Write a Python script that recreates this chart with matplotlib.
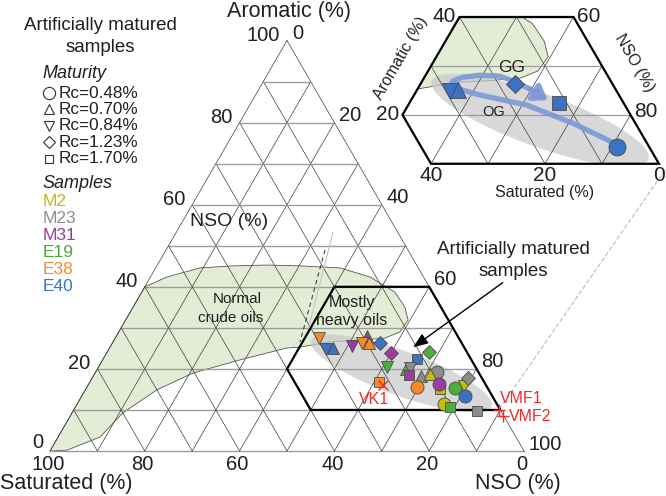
import numpy as np
import matplotlib.pyplot as plt
import matplotlib.transforms as mtransforms
from matplotlib.patches import Polygon, Ellipse

plt.rcParams['font.family'] = ['Liberation Sans', 'DejaVu Sans']

SQ = np.sqrt(3) / 2


def tern(aro, nso):
    # ternary (aromatic, NSO) -> cartesian, saturated = 100 - aro - nso
    aro = np.asarray(aro, dtype=float)
    nso = np.asarray(nso, dtype=float)
    return nso + aro / 2, aro * SQ


# ---------------- data ----------------
samples = ['M2', 'M23', 'M31', 'E19', 'E38', 'E40']
sample_colors = ['#c8bb10', '#8c8c8c', '#9b3c9e', '#4caf3a', '#f58b2b', '#3b72c4']
sample_text_colors = ['#c2b61c', '#8e8e8e', '#9a3c9a', '#4aa83a', '#f08c30', '#3f74c6']
maturity = ['Rc=0.48%', 'Rc=0.70%', 'Rc=0.84%', 'Rc=1.23%', 'Rc=1.70%']
maturity_markers = ['o', '^', 'v', 'D', 's']
marker_size = {'o': 9.4, '^': 8.4, 'v': 8.4, 'D': 6.8, 's': 7.2}

# artificially matured samples (in drawing order)
pt_sample = [4, 5, 5, 2, 2, 4, 4, 5, 2, 3, 4, 5, 3, 3, 1, 2, 1, 1, 0, 4, 0, 2, 3, 0, 1, 5, 0, 3, 1]
pt_rc = [2, 2, 1, 2, 1, 2, 1, 3, 3, 2, 4, 4, 3, 1, 2, 4, 1, 0, 1, 0, 4, 0, 0, 2, 3, 0, 0, 4, 4]
pt_aro = [27.5, 24.9, 25.1, 25.6, 28.0, 26.3, 26.3, 26.3, 23.9, 20.5, 16.8, 22.4, 24.1, 20.0, 20.2,
          18.5, 18.3, 19.2, 18.75, 15.6, 15.1, 16.3, 15.35, 15.8, 17.8, 13.4, 11.45, 10.7, 9.75]
pt_nso = [43.0, 45.8, 47.2, 50.9, 52.9, 52.7, 54.2, 56.5, 60.0, 60.9, 61.0, 66.2, 67.9, 65.1, 65.9,
          66.5, 69.1, 72.0, 70.8, 69.6, 74.7, 73.9, 77.8, 79.4, 79.3, 80.85, 77.4, 79.0, 85.2]

# natural oils
ref_names = ['VK1', 'VMF1', 'VMF2']
ref_aro = [16.1, 10.0, 8.5]
ref_nso = [62.2, 89.7, 91.3]

# normal crude oils / mostly heavy oils envelope
green_aro = [40, 42.4, 44.6, 45.1, 45.3, 45.1, 44.6, 42.4, 38.7, 35.1, 31.9, 29.0, 27.5, 27.0,
             26.6, 25.3, 25.1, 22.2, 19.0, 14.9, 9.3, 3.4, 0.2, 0]
green_nso = [0, 3.5, 9.35, 16.1, 23.1, 30.2, 38.9, 46.3, 53.4, 57.3, 59.6, 59.3, 56.9, 51.9,
             45.8, 40.1, 37.45, 29.0, 20.7, 15.1, 10.75, 8.85, 3.5, 0]

# zoomed window (trapezoid)
trap_aro = [40, 40, 10, 10, 20]
trap_nso = [40, 60, 90, 50, 40]

# E40 pathways in the inset
og_aro = [25.5, 24.05, 22.0, 18.3, 14.9, 13.6]
og_nso = [46.45, 51.6, 60.8, 70.7, 78.5, 81.0]
gg_aro = [25.7, 26.9, 27.7, 28.1, 27.9, 26.7, 25.3, 23.0]
gg_nso = [45.5, 45.4, 46.75, 49.55, 53.15, 56.55, 59.7, 64.0]

# artificially matured cloud (centre aro, nso; size; angle)
cloud_aro, cloud_nso = 18.9, 64.7
cloud_w, cloud_h, cloud_ang = 40.5, 9.4, -20

TXT = '#231f20'

fig = plt.figure(figsize=(6.66, 4.96), dpi=100)
px = mtransforms.Affine2D().scale(1 / 666, -1 / 496).translate(0, 1) + fig.transFigure

ax = fig.add_axes([0, 0, 1, 1])
ax.set_xlim(-50 / 4.74, 616 / 4.74)
ax.set_ylim(-45 / 4.74, 451 / 4.74)
ax.axis('off')


def draw_grid(a, lw_h, lw_d, clip=None):
    arts = []
    for v in range(0, 101, 10):
        x, y = tern([v, v], [0, 100 - v])
        arts += a.plot(x, y, color='#9c9c9c', lw=lw_h, zorder=2)
        x, y = tern([0, 100 - v], [v, v])
        arts += a.plot(x, y, color='#3d3d3d', lw=lw_d, zorder=2)
        x, y = tern([0, 100 - v], [100 - v, 0])
        arts += a.plot(x, y, color='#3d3d3d', lw=lw_d, zorder=2)
    if clip is not None:
        for l in arts:
            l.set_clip_path(clip)


def draw_regions(a, clip=None):
    gx, gy = tern(green_aro, green_nso)
    g = Polygon(np.column_stack([gx, gy]), closed=True, fc='#e3ecd4', ec='#555555', lw=0.6, zorder=1)
    a.add_patch(g)
    cx, cy = tern(cloud_aro, cloud_nso)
    e = Ellipse((cx, cy), cloud_w, cloud_h, angle=cloud_ang, fc='#c8c8c8', ec='none', alpha=0.7, zorder=1.5)
    a.add_patch(e)
    if clip is not None:
        g.set_clip_path(clip)
        e.set_clip_path(clip)


def draw_points(a, scale=1.0, only=None):
    for i in range(len(pt_aro)):
        if only is not None and pt_sample[i] != only:
            continue
        m = maturity_markers[pt_rc[i]]
        x, y = tern(pt_aro[i], pt_nso[i])
        a.plot(x, y, marker=m, ms=marker_size[m] * scale, mfc=sample_colors[pt_sample[i]],
               mec='#4a4a4a', mew=0.6, ls='none', zorder=5 + i * 0.01)


# ---------- main triangle ----------
draw_regions(ax)
draw_grid(ax, 1.0, 0.5)

tx, ty = tern(trap_aro, trap_nso)
ax.add_patch(Polygon(np.column_stack([tx, ty]), closed=True, fill=False, ec='black', lw=1.6, zorder=3))

draw_points(ax)

rx, ry = tern(ref_aro, ref_nso)
ax.plot(rx[0], ry[0], marker='x', ms=6.5, mec='#ee2a2a', mew=1.0, ls='none', zorder=6)
ax.plot(rx[1:], ry[1:], marker='+', ms=8, mec='#ee2a2a', mew=1.0, ls='none', zorder=6)
ax.annotate(ref_names[0], (rx[0], ry[0]), xytext=(-9, -15), textcoords='offset pixels',
            ha='center', va='center', color='#ee2a2a', fontsize=11.5)
ax.annotate(ref_names[1], (rx[1], ry[1]), xytext=(1, 11), textcoords='offset pixels',
            ha='left', va='center', color='#ee2a2a', fontsize=11.5)
ax.annotate(ref_names[2], (rx[2], ry[2]), xytext=(6, 0), textcoords='offset pixels',
            ha='left', va='center', color='#ee2a2a', fontsize=11.5)

# tick labels
for v in range(0, 101, 20):
    x, y = tern(v, 0)
    ax.annotate(str(v), (x, y), xytext=(-7, 9 if v == 0 else 5), textcoords='offset pixels',
                ha='right', va='center', fontsize=14.5, color=TXT)
    x, y = tern(0, 100 - v)
    ax.annotate(str(v), (x, y), xytext=(-2, -13), textcoords='offset pixels', ha='center', va='center',
                fontsize=14.5, color=TXT)
    x, y = tern(100 - v, v)
    ax.annotate(str(v), (x, y), xytext=(5, 7), textcoords='offset pixels', ha='left', va='center',
                fontsize=14.5, color=TXT)

fig.text(289, 12, 'Aromatic (%)', transform=px, ha='center', va='center', fontsize=15.5, color=TXT)
fig.text(0, 483, 'Saturated (%)', transform=px, ha='left', va='center', fontsize=15.5, color=TXT)
fig.text(518, 483, 'NSO (%)', transform=px, ha='center', va='center', fontsize=15.5, color=TXT)
fig.text(190, 222, 'NSO (%)', transform=px, ha='left', va='center', fontsize=14, color=TXT)

fig.text(237, 299, 'Normal', transform=px, ha='center', va='center', fontsize=11, color=TXT)
fig.text(231, 318, 'crude oils', transform=px, ha='center', va='center', fontsize=11, color=TXT)
fig.text(352, 302, 'Mostly', transform=px, ha='center', va='center', fontsize=11.5, color=TXT)
fig.text(352, 320, 'heavy oils', transform=px, ha='center', va='center', fontsize=11.5, color=TXT)

fig.text(513, 250, 'Artificially matured', transform=px, ha='center', va='center', fontsize=13.5, color=TXT)
fig.text(513, 272, 'samples', transform=px, ha='center', va='center', fontsize=13.5, color=TXT)
ax.annotate('', xy=tern(24.85, 63.7), xytext=(505, 281), textcoords=px,
            arrowprops=dict(arrowstyle='-|>,head_length=0.9,head_width=0.35', color='black', lw=1.0),
            zorder=7)

# guide lines
ax.plot([665, 498], [170, 411], transform=px, color='#bbbbbb', lw=0.8, ls=(0, (4, 2)), clip_on=False)
ax.plot([325, 300], [250, 342], transform=px, color='#444444', lw=0.8, ls=(0, (4, 3)), clip_on=False)
ax.plot([333, 308], [232, 330], transform=px, color='#c4c4c4', lw=0.8, clip_on=False)

# ---------- legend (left) ----------
fig.text(100, 25, 'Artificially matured', transform=px, ha='center', va='center', fontsize=13.5, color=TXT)
fig.text(100, 47, 'samples', transform=px, ha='center', va='center', fontsize=13.5, color=TXT)
fig.text(42, 73, 'Maturity', transform=px, ha='left', va='center', fontsize=13, style='italic', color=TXT)
leg_ms = {'o': 8.8, '^': 7.5, 'v': 7.5, 'D': 6.6, 's': 6.0}
for k, lab in enumerate(maturity):
    yy = 93 + k * 16.4
    m = maturity_markers[k]
    ax.plot([49], [yy], transform=px, marker=m, ms=leg_ms[m], mfc='none', mec='#333333', mew=0.8,
            clip_on=False)
    fig.text(59, yy, lab, transform=px, ha='left', va='center', fontsize=12.3, color=TXT)
fig.text(42, 184, 'Samples', transform=px, ha='left', va='center', fontsize=13, style='italic', color=TXT)
for k, s in enumerate(samples):
    fig.text(43, 202 + k * 16.9, s, transform=px, ha='left', va='center', fontsize=12.5,
             color=sample_text_colors[k])

# ---------- inset ----------
ax2 = fig.add_axes([360 / 666, (496 - 200) / 496, 306 / 666, 200 / 496])
ax2.set_xlim(42.54, 96.23)
ax2.set_ylim(2.25, 37.65)
ax2.axis('off')
ax2.patch.set_alpha(0)

trap = Polygon(np.column_stack([tx, ty]), closed=True, fill=False, ec='black', lw=1.6, zorder=3)
ax2.add_patch(trap)
clip = Polygon(np.column_stack([tx, ty]), closed=True, transform=ax2.transData)
draw_regions(ax2, clip)
draw_grid(ax2, 0.9, 0.5, clip)

ox, oy = tern(og_aro, og_nso)
ax2.plot(ox, oy, color='#7b98d8', lw=3.8, alpha=0.9, solid_capstyle='round', zorder=4)
gx2, gy2 = tern(gg_aro, gg_nso)
ax2.plot(gx2[:-1], gy2[:-1], color='#7b98d8', lw=3.8, alpha=0.9, solid_capstyle='round', zorder=4)
ax2.annotate('', xy=(gx2[-1], gy2[-1]), xytext=(gx2[-2], gy2[-2]),
             arrowprops=dict(arrowstyle='-|>,head_length=0.8,head_width=0.55', color='#7b98d8',
                             lw=3.8, alpha=0.9, shrinkA=0, shrinkB=0), zorder=4)

draw_points(ax2, scale=1.3, only=5)

for a_, n_, lab, dx, dy, ha in [(40, 40, '40', -4, 0, 'right'), (40, 60, '60', 4, 0, 'left'),
                                (20, 40, '20', -3, 0, 'right'), (20, 80, '80', 4, 3, 'left'),
                                (10, 50, '40', 0, -12, 'center'), (10, 70, '20', 0, -12, 'center'),
                                (10, 90, '0', 0, -12, 'center')]:
    ax2.annotate(lab, tern(a_, n_), xytext=(dx, dy), textcoords='offset pixels', ha=ha, va='center',
                 fontsize=15, color=TXT, annotation_clip=False)

fig.text(545, 193, 'Saturated (%)', transform=px, ha='center', va='center', fontsize=11.5, color=TXT)
fig.text(401, 58, 'Aromatic (%)', transform=px, ha='center', va='center', fontsize=11.5, rotation=60,
         color=TXT)
fig.text(635, 63, 'NSO (%)', transform=px, ha='center', va='center', fontsize=11.5, rotation=-60,
         color=TXT)
fig.text(512, 67, 'GG', transform=px, ha='center', va='center', fontsize=12.5, color=TXT)
fig.text(494, 112, 'OG', transform=px, ha='center', va='center', fontsize=10.5, color=TXT)

fig.savefig('out.png', dpi=100)
